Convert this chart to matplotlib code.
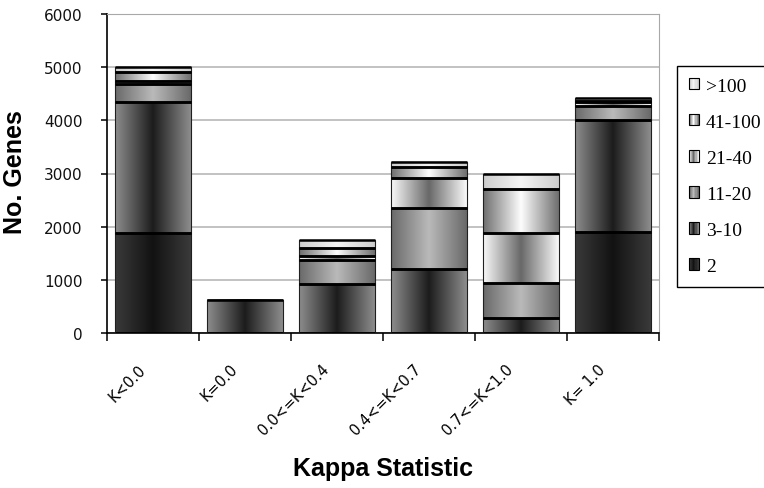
import numpy as np
import matplotlib
matplotlib.use('Agg')
import matplotlib.pyplot as plt
import matplotlib.transforms as mtransforms
from matplotlib.colors import to_rgb
from matplotlib.patches import Rectangle
from matplotlib.legend_handler import HandlerBase

categories = ['K<0.0', 'K=0.0', '0.0<=K<0.4', '0.4<=K<0.7', '0.7<=K<1.0', 'K= 1.0']
series = ['2', '3-10', '11-20', '21-40', '41-100', '>100']

# genes per kappa bin, split by cluster size
genes_2 = [1885, 0, 0, 0, 0, 1896]
genes_3_10 = [2465, 630, 925, 1206, 283, 2112]
genes_11_20 = [330, 0, 455, 1150, 660, 263]
genes_21_40 = [65, 0, 60, 566, 942, 70]
genes_41_100 = [167, 0, 165, 200, 816, 30]
genes_over_100 = [100, 0, 150, 100, 284, 55]

# (edge colour, centre colour) of the horizontal gradient for each series
shades = [('#3a3a3a', '#121212'),
          ('#8c8c8c', '#1c1c1c'),
          ('#6a6a6a', '#bababa'),
          ('#f8f8f8', '#686868'),
          ('#707070', '#fdfdfd'),
          ('#cdcdcd', '#f4f4f4')]


def ramp(edge, centre, n=64):
    t = np.linspace(0, 1, n)
    w = 1 - np.abs(2 * t - 1)
    e, c = np.array(to_rgb(edge)), np.array(to_rgb(centre))
    return e + (c - e) * w[:, None]


class GradientHandler(HandlerBase):
    def create_artists(self, legend, orig_handle, xdescent, ydescent,
                       width, height, fontsize, trans):
        cols = ramp(*orig_handle.shade, n=9)
        n = len(cols)
        arts = []
        for k, col in enumerate(cols):
            arts.append(Rectangle((-xdescent + k * width / n, -ydescent),
                                  width / n, height, facecolor=col,
                                  edgecolor='none', transform=trans))
        arts.append(Rectangle((-xdescent, -ydescent), width, height,
                              facecolor='none', edgecolor='black', lw=0.8,
                              transform=trans))
        return arts


data = [genes_2, genes_3_10, genes_11_20, genes_21_40, genes_41_100, genes_over_100]

fig = plt.figure(figsize=(7.64, 4.89), dpi=100)
ax = fig.add_axes([107 / 764, 1 - 334 / 489, 552 / 764, 319 / 489])

x = np.arange(len(categories))
width = 0.82
bottom = np.zeros(len(categories))
for vals, shade in zip(data, shades):
    vals = np.array(vals, dtype=float)
    bars = ax.bar(x, vals, width, bottom=bottom, facecolor='none',
                  edgecolor='#202020', lw=0.8, zorder=3)
    img = ramp(*shade)[None, :, :]
    for p, v, b in zip(bars.patches, vals, bottom):
        if v <= 0:
            continue
        x0, y0 = p.get_x(), p.get_y()
        ax.imshow(img, extent=(x0, x0 + p.get_width(), y0, y0 + p.get_height()),
                  aspect='auto', interpolation='bilinear', zorder=2)
        ax.hlines([b, b + v], x0, x0 + p.get_width(), colors='black', lw=1.8, zorder=4)
    bottom += vals

ax.set_xlim(-0.5, len(categories) - 0.5)
ax.set_ylim(0, 6000)
ax.set_yticks(np.arange(0, 6001, 1000))
ax.yaxis.grid(True, color='#bdbdbd', lw=1.3)
ax.set_axisbelow(True)

for s in ['top', 'right']:
    ax.spines[s].set_color('#a8a8a8')
for s in ['left', 'bottom']:
    ax.spines[s].set_color('black')
    ax.spines[s].set_linewidth(1.2)

ax.tick_params(axis='y', direction='out', length=4.5, width=1.1, pad=13,
               labelsize=11, labelcolor='#111111')
ax.set_xticks(x)
ax.set_xticks(np.arange(-0.5, len(categories)), minor=True)
ax.tick_params(axis='x', which='major', length=0, pad=24, labelsize=10.5)
ax.tick_params(axis='x', which='minor', direction='out', length=6, width=1.1)
ax.set_xticklabels(categories, rotation=45, ha='right', va='center',
                   rotation_mode='anchor')
shift = mtransforms.ScaledTranslation(-10 / 100, 0, fig.dpi_scale_trans)
for lab in ax.get_xticklabels():
    lab.set_transform(lab.get_transform() + shift)

ax.set_ylabel('No. Genes', fontsize=18, fontweight='bold', family='Liberation Sans')
ax.yaxis.set_label_coords(-0.145, 0.508)
ax.set_xlabel('Kappa Statistic', fontsize=18, fontweight='bold', family='Liberation Sans')
ax.xaxis.set_label_coords(0.5, -0.387)

proxies = []
for shade in shades:
    r = Rectangle((0, 0), 1, 1)
    r.shade = shade
    proxies.append(r)
leg = fig.legend(proxies[::-1], series[::-1], loc='upper left',
                 bbox_to_anchor=(677 / 764, 1 - 67 / 489), borderaxespad=0,
                 handler_map={Rectangle: GradientHandler()},
                 prop={'family': 'Liberation Serif', 'size': 14},
                 handlelength=0.52, handleheight=0.52, handletextpad=0.36,
                 labelspacing=0.98, borderpad=0.6, fancybox=False,
                 framealpha=1, edgecolor='black')
leg.get_frame().set_linewidth(1.0)

fig.savefig('out.png', dpi=100)
